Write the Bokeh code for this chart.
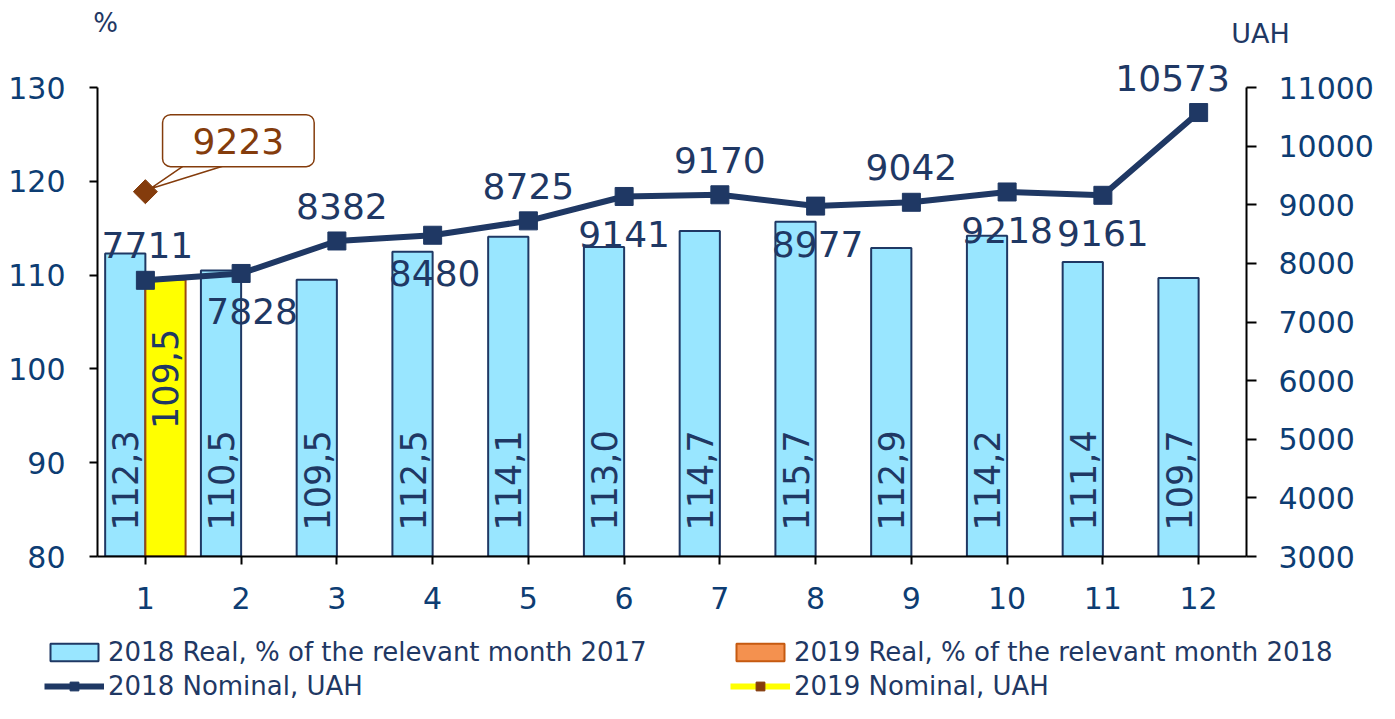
import math
from bokeh.plotting import figure
from bokeh.layouts import column, row
from bokeh.models import (Range1d, LinearAxis, FixedTicker, ColumnDataSource,
                          Legend, LegendItem, Label)
from bokeh.core.properties import value
from bokeh.embed import file_html
from bokeh.resources import INLINE

# ---------------- data ----------------
months = [1, 2, 3, 4, 5, 6, 7, 8, 9, 10, 11, 12]
real_2018 = [112.3, 110.5, 109.5, 112.5, 114.1, 113.0, 114.7, 115.7, 112.9, 114.2, 111.4, 109.7]
months_2019 = [1]
real_2019 = [109.5]
nominal_2018 = [7711, 7828, 8382, 8480, 8725, 9141, 9170, 8977, 9042, 9218, 9161, 10573]
nominal_2019 = [9223]
left_ticks = [80, 90, 100, 110, 120, 130]
right_ticks = [3000, 4000, 5000, 6000, 7000, 8000, 9000, 10000, 11000]
x_ticks = months
legend_labels = ["2018 Real, % of the relevant month 2017",
                 "2019 Real, % of the relevant month 2018",
                 "2018 Nominal, UAH",
                 "2019 Nominal, UAH"]

# ---------------- styles / layout ----------------
FONT = "DejaVu Sans"
NAVY = "#1F3864"
TICK = "#0D3D73"
BROWN = "#843C0C"
label_side = ["above", "below", "above", "below", "above", "below",
              "above", "below", "above", "below", "below", "above"]
label_dx = [2, 11, 5, 2, 0, 0, 0, 2, 0, 0, 0, -26]

W = 1379
TOP_H = 50            # strip with unit labels
MAIN_H = 575          # main chart
LEG_H = 78            # legend strip
BL, BR, BB = 97, 133, 69
FRAME_W = W - BL - BR
FRAME_H = MAIN_H - BB
AXIS_TOP_PX = 37      # gap between frame top and the top tick
AXIS_PX = FRAME_H - AXIS_TOP_PX

def extend(lo, hi):
    return lo + (hi - lo) * FRAME_H / AXIS_PX

y_end = extend(left_ticks[0], left_ticks[-1])
r_end = extend(right_ticks[0], right_ticks[-1])

def strip(height):
    f = figure(width=W, height=height, x_range=Range1d(0, W), y_range=Range1d(height, 0),
               output_backend="svg", toolbar_location=None,
               x_axis_location=None, y_axis_location=None, min_border=0)
    f.outline_line_color = None
    f.grid.visible = False
    return f

# ---------------- top strip (unit labels) ----------------
ptop = strip(TOP_H)
ptop.add_layout(Label(x=BL + 8, y=22, text="%", text_align="center", text_baseline="middle",
                      text_font=FONT, text_font_size="26px", text_color=NAVY))
ptop.add_layout(Label(x=BL + FRAME_W + 14, y=33, text="UAH", text_align="center",
                      text_baseline="middle", text_font=FONT, text_font_size="27px",
                      text_color=NAVY))

# ---------------- main chart ----------------
p = figure(width=W, height=MAIN_H, x_range=Range1d(0.5, 12.5),
           y_range=Range1d(left_ticks[0], y_end),
           output_backend="svg", toolbar_location=None,
           min_border_left=BL, min_border_right=BR, min_border_top=0, min_border_bottom=BB)
p.extra_y_ranges = {"uah": Range1d(right_ticks[0], r_end)}
p.outline_line_color = None
p.xgrid.visible = False
p.ygrid.visible = False

def style_axis(ax, ticks, tick_out, standoff):
    ax.ticker = FixedTicker(ticks=ticks)
    ax.minor_tick_line_color = None
    ax.major_tick_in = 0
    ax.major_tick_out = tick_out
    ax.major_tick_line_color = "black"
    ax.major_tick_line_width = 2
    ax.axis_line_color = "black"
    ax.axis_line_width = 2
    ax.major_label_text_font = FONT
    ax.major_label_text_font_size = "30px"
    ax.major_label_text_color = TICK
    ax.major_label_standoff = standoff

style_axis(p.xaxis[0], x_ticks, 8, 22)
style_axis(p.yaxis[0], left_ticks, 8, 24)
p.yaxis[0].bounds = (left_ticks[0], left_ticks[-1])
raxis = LinearAxis(y_range_name="uah")
style_axis(raxis, right_ticks, 10, 22)
raxis.bounds = (right_ticks[0], right_ticks[-1])
p.add_layout(raxis, "right")

# bars
bar_w = 0.42
base = left_ticks[0]
src18 = ColumnDataSource(dict(
    x=[m - bar_w / 2 for m in months], top=real_2018,
    lbl=[f"{v:.1f}".replace(".", ",") for v in real_2018]))
src19 = ColumnDataSource(dict(
    x=[m + bar_w / 2 for m in months_2019], top=real_2019,
    lbl=[f"{v:.1f}".replace(".", ",") for v in real_2019]))

bar18_style = dict(fill_color="#99E6FF", line_color=NAVY, line_width=2)
bar19_leg_style = dict(fill_color="#F4914F", line_color="#C55A11", line_width=2)
p.vbar(x="x", top="top", bottom=base, width=bar_w, source=src18, **bar18_style)
p.vbar(x="x", top="top", bottom=base, width=bar_w, source=src19,
       fill_color="#FFFF00", line_color="#9C4A12", line_width=2)

p.text(x="x", y=base, text="lbl", source=src18, angle=math.pi / 2,
       text_align="left", text_baseline="middle", y_offset=-26,
       text_font=value(FONT), text_font_size="35px", text_color=NAVY)
p.text(x="x", y="top", text="lbl", source=src19, angle=math.pi / 2,
       text_align="right", text_baseline="middle", y_offset=49,
       text_font=value(FONT), text_font_size="35px", text_color=NAVY)

# lines
line18_style = dict(line_color=NAVY, line_width=6)
sq_style = dict(marker="square", size=18, fill_color=NAVY, line_color=NAVY)
line19_style = dict(line_color="#FFFF00", line_width=6)
dm_style = dict(marker="square", angle=math.pi / 4, size=17, fill_color=BROWN, line_color=BROWN)

p.line(months, nominal_2018, y_range_name="uah", **line18_style)
p.scatter(months, nominal_2018, y_range_name="uah", **sq_style)

lsrc = ColumnDataSource(dict(
    x=months, y=nominal_2018, t=[str(v) for v in nominal_2018],
    dx=label_dx, dy=[-35 if s == "above" else 38 for s in label_side]))
p.text(x="x", y="y", text="t", source=lsrc, y_range_name="uah",
       x_offset="dx", y_offset="dy", text_align="center", text_baseline="middle",
       text_font=value(FONT), text_font_size="36px", text_color=NAVY)

# callout for 2019 nominal
pxx = (p.x_range.end - p.x_range.start) / FRAME_W
pxy = (right_ticks[-1] - right_ticks[0]) / AXIS_PX
mx, my = months_2019[0], nominal_2019[0]
p.patch([mx + 5 * pxx, mx + 40 * pxx, mx + 82 * pxx],
        [my + 3 * pxy, my + 27 * pxy, my + 27 * pxy],
        y_range_name="uah", fill_color="white", line_color=BROWN, line_width=1.5)
p.scatter(months_2019, nominal_2019, y_range_name="uah", **dm_style)
p.add_layout(Label(x=mx, y=my, y_range_name="uah", text=str(nominal_2019[0]),
                   x_offset=93, y_offset=51, text_align="center", text_baseline="middle",
                   text_font=FONT, text_font_size="36px", text_color=BROWN,
                   border_line_color=BROWN, border_line_width=1.5,
                   background_fill_color="white", padding=(30, 30, 13, 13), border_radius=8))

# ---------------- legend strip ----------------
pleg = figure(width=W, height=LEG_H, x_range=Range1d(0.5, 12.5), y_range=Range1d(80, 130),
              output_backend="svg", toolbar_location=None,
              x_axis_location=None, y_axis_location=None, min_border=0)
pleg.outline_line_color = None
pleg.grid.visible = False
g18 = pleg.vbar(x="x", top="top", bottom=base, width=bar_w, source=src18, visible=False,
                **bar18_style)
g19 = pleg.vbar(x="x", top="top", bottom=base, width=bar_w, source=src19, visible=False,
                **bar19_leg_style)
gl18 = pleg.line(months, nominal_2018, visible=False, **line18_style)
gs18 = pleg.scatter(months, nominal_2018, visible=False, **sq_style)
gl19 = pleg.line(months_2019, nominal_2019, visible=False, **line19_style)
gd19 = pleg.scatter(months_2019, nominal_2019, visible=False, **dm_style)

legend = Legend(items=[
    LegendItem(label=legend_labels[0], renderers=[g18]),
    LegendItem(label=legend_labels[1], renderers=[g19]),
    LegendItem(label=legend_labels[2], renderers=[gl18, gs18]),
    LegendItem(label=legend_labels[3], renderers=[gl19, gd19]),
], ncols=2, orientation="horizontal", location=(44, 2),
    glyph_width=60, glyph_height=22, label_standoff=4, label_width=618,
    spacing=4, padding=0, margin=0, border_line_color=None, background_fill_alpha=0,
    inactive_fill_alpha=0,
    label_text_font=FONT, label_text_font_size="26px", label_text_color=NAVY)
pleg.add_layout(legend)

layout = column(row(ptop), p, row(pleg), spacing=0)
open("out.html", "w").write(file_html(layout, INLINE))
